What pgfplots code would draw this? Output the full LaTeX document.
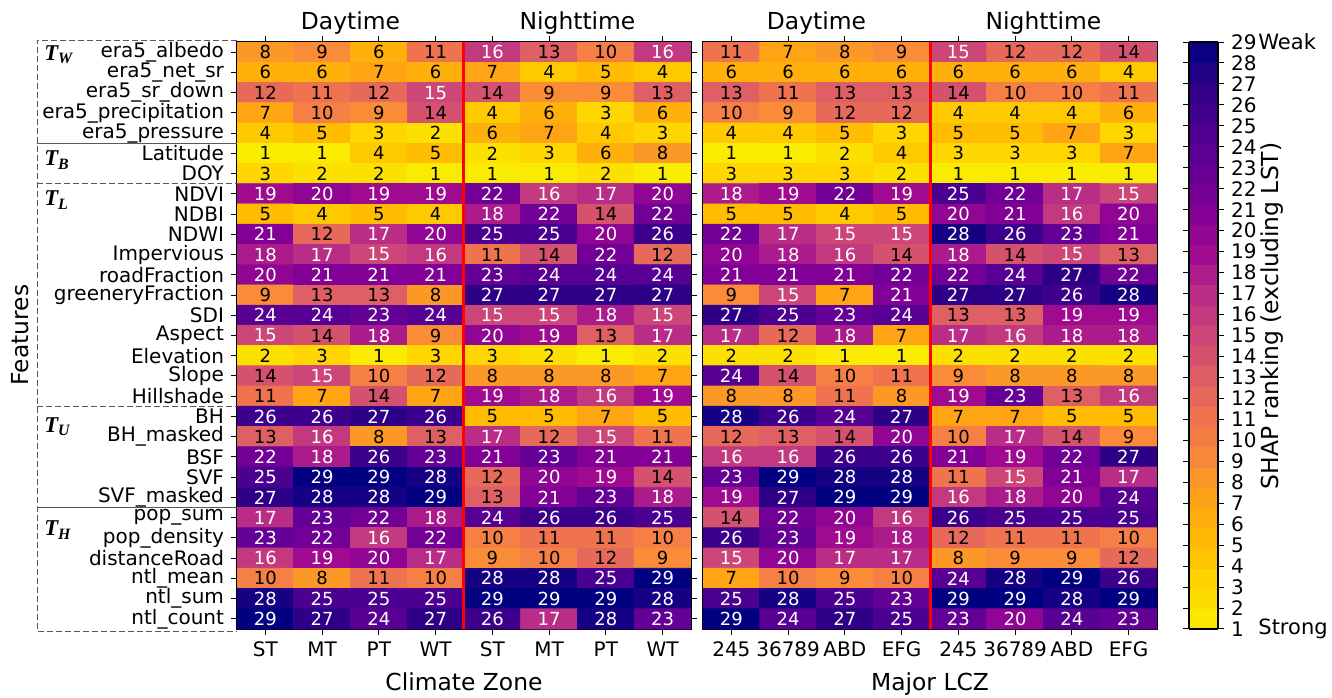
\documentclass[border=0pt]{standalone}
\usepackage{pgfplots}
\pgfplotsset{compat=1.18}
\usepackage{fontspec}
\setmainfont{DejaVu Sans}
\newfontfamily\tserif{Liberation Serif}

\pgfplotsset{
  /pgf/number format/assume math mode=true,
  hm/.style={
    scale only axis, width=227pt, height=293.5pt,
    xmin=-0.5, xmax=7.5, ymin=-0.5, ymax=28.5, y dir=reverse,
    enlargelimits=false, xtick={0,...,7},
    tick align=outside, major tick length=3pt,
    axis line style={line width=0.6pt},
    every tick/.style={black, line width=0.5pt},
    tick label style={font=\fontsize{10}{12}\selectfont},
    point meta min=1, point meta max=29,
    % ranks 1,3,5,...,29
    colormap={rankmap}{rgb255=(250,236,0) rgb255=(255,214,0) rgb255=(255,188,0)
      rgb255=(255,165,20) rgb255=(250,140,55) rgb255=(240,115,80) rgb255=(222,95,100)
      rgb255=(205,70,120) rgb255=(185,45,135) rgb255=(160,10,145) rgb255=(130,0,150)
      rgb255=(100,0,150) rgb255=(75,0,145) rgb255=(45,0,135) rgb255=(0,0,128)},
  },
  heatcells/.style={matrix plot*, mesh/cols=8, mesh/rows=29, point meta=explicit,
    nodes near coords={\ifdim\pgfplotspointmetatransformed pt>480pt\relax\color{white}\fi
      \pgfmathprintnumber{\pgfplotspointmeta}},
    every node near coord/.append style={anchor=center, inner sep=0pt,
      font=\fontsize{9}{10}\selectfont}},
  redsep/.style={red, line width=1.5pt, forget plot, mark=none},
}

\begin{document}
\begin{tikzpicture}
\path[use as bounding box] (0pt,0pt) rectangle (666pt,-348.5pt);

% climate zones
\begin{axis}[hm, name=left, at={(118.5pt,-21pt)}, anchor=north west,
  xticklabels={ST,MT,PT,WT,ST,MT,PT,WT},
  ytick={0,...,28},
  yticklabels={era5\_albedo,era5\_net\_sr,era5\_sr\_down,era5\_precipitation,era5\_pressure,
    Latitude,DOY,NDVI,NDBI,NDWI,Impervious,roadFraction,greeneryFraction,SDI,Aspect,
    Elevation,Slope,Hillshade,BH,BH\_masked,BSF,SVF,SVF\_masked,pop\_sum,pop\_density,
    distanceRoad,ntl\_mean,ntl\_sum,ntl\_count}]
\addplot[heatcells] coordinates {
(0,0)[8] (1,0)[9] (2,0)[6] (3,0)[11] (4,0)[16] (5,0)[13] (6,0)[10] (7,0)[16]
(0,1)[6] (1,1)[6] (2,1)[7] (3,1)[6] (4,1)[7] (5,1)[4] (6,1)[5] (7,1)[4]
(0,2)[12] (1,2)[11] (2,2)[12] (3,2)[15] (4,2)[14] (5,2)[9] (6,2)[9] (7,2)[13]
(0,3)[7] (1,3)[10] (2,3)[9] (3,3)[14] (4,3)[4] (5,3)[6] (6,3)[3] (7,3)[6]
(0,4)[4] (1,4)[5] (2,4)[3] (3,4)[2] (4,4)[6] (5,4)[7] (6,4)[4] (7,4)[3]
(0,5)[1] (1,5)[1] (2,5)[4] (3,5)[5] (4,5)[2] (5,5)[3] (6,5)[6] (7,5)[8]
(0,6)[3] (1,6)[2] (2,6)[2] (3,6)[1] (4,6)[1] (5,6)[1] (6,6)[2] (7,6)[1]
(0,7)[19] (1,7)[20] (2,7)[19] (3,7)[19] (4,7)[22] (5,7)[16] (6,7)[17] (7,7)[20]
(0,8)[5] (1,8)[4] (2,8)[5] (3,8)[4] (4,8)[18] (5,8)[22] (6,8)[14] (7,8)[22]
(0,9)[21] (1,9)[12] (2,9)[17] (3,9)[20] (4,9)[25] (5,9)[25] (6,9)[20] (7,9)[26]
(0,10)[18] (1,10)[17] (2,10)[15] (3,10)[16] (4,10)[11] (5,10)[14] (6,10)[22] (7,10)[12]
(0,11)[20] (1,11)[21] (2,11)[21] (3,11)[21] (4,11)[23] (5,11)[24] (6,11)[24] (7,11)[24]
(0,12)[9] (1,12)[13] (2,12)[13] (3,12)[8] (4,12)[27] (5,12)[27] (6,12)[27] (7,12)[27]
(0,13)[24] (1,13)[24] (2,13)[23] (3,13)[24] (4,13)[15] (5,13)[15] (6,13)[18] (7,13)[15]
(0,14)[15] (1,14)[14] (2,14)[18] (3,14)[9] (4,14)[20] (5,14)[19] (6,14)[13] (7,14)[17]
(0,15)[2] (1,15)[3] (2,15)[1] (3,15)[3] (4,15)[3] (5,15)[2] (6,15)[1] (7,15)[2]
(0,16)[14] (1,16)[15] (2,16)[10] (3,16)[12] (4,16)[8] (5,16)[8] (6,16)[8] (7,16)[7]
(0,17)[11] (1,17)[7] (2,17)[14] (3,17)[7] (4,17)[19] (5,17)[18] (6,17)[16] (7,17)[19]
(0,18)[26] (1,18)[26] (2,18)[27] (3,18)[26] (4,18)[5] (5,18)[5] (6,18)[7] (7,18)[5]
(0,19)[13] (1,19)[16] (2,19)[8] (3,19)[13] (4,19)[17] (5,19)[12] (6,19)[15] (7,19)[11]
(0,20)[22] (1,20)[18] (2,20)[26] (3,20)[23] (4,20)[21] (5,20)[23] (6,20)[21] (7,20)[21]
(0,21)[25] (1,21)[29] (2,21)[29] (3,21)[28] (4,21)[12] (5,21)[20] (6,21)[19] (7,21)[14]
(0,22)[27] (1,22)[28] (2,22)[28] (3,22)[29] (4,22)[13] (5,22)[21] (6,22)[23] (7,22)[18]
(0,23)[17] (1,23)[23] (2,23)[22] (3,23)[18] (4,23)[24] (5,23)[26] (6,23)[26] (7,23)[25]
(0,24)[23] (1,24)[22] (2,24)[16] (3,24)[22] (4,24)[10] (5,24)[11] (6,24)[11] (7,24)[10]
(0,25)[16] (1,25)[19] (2,25)[20] (3,25)[17] (4,25)[9] (5,25)[10] (6,25)[12] (7,25)[9]
(0,26)[10] (1,26)[8] (2,26)[11] (3,26)[10] (4,26)[28] (5,26)[28] (6,26)[25] (7,26)[29]
(0,27)[28] (1,27)[25] (2,27)[25] (3,27)[25] (4,27)[29] (5,27)[29] (6,27)[29] (7,27)[28]
(0,28)[29] (1,28)[27] (2,28)[24] (3,28)[27] (4,28)[26] (5,28)[17] (6,28)[28] (7,28)[23]
};
\addplot[redsep] coordinates {(3.5,-0.5) (3.5,28.5)};
\end{axis}

% major LCZ
\begin{axis}[hm, name=right, at={(351.5pt,-21pt)}, anchor=north west,
  xticklabels={245,36789,ABD,EFG,245,36789,ABD,EFG},
  ytick=\empty,
  colorbar sampled,
  colorbar style={samples=30, at={(parent axis.north east)}, anchor=north west,
    xshift=7.5pt, scale only axis, width=14.5pt, height=293.5pt,
    ytick={1,...,29}, tick align=outside, major tick length=3pt,
    every tick/.style={black, line width=0.5pt},
    axis line style={line width=0.6pt},
    yticklabel style={font=\fontsize{10}{12}\selectfont}}]
\addplot[heatcells] coordinates {
(0,0)[11] (1,0)[7] (2,0)[8] (3,0)[9] (4,0)[15] (5,0)[12] (6,0)[12] (7,0)[14]
(0,1)[6] (1,1)[6] (2,1)[6] (3,1)[6] (4,1)[6] (5,1)[6] (6,1)[6] (7,1)[4]
(0,2)[13] (1,2)[11] (2,2)[13] (3,2)[13] (4,2)[14] (5,2)[10] (6,2)[10] (7,2)[11]
(0,3)[10] (1,3)[9] (2,3)[12] (3,3)[12] (4,3)[4] (5,3)[4] (6,3)[4] (7,3)[6]
(0,4)[4] (1,4)[4] (2,4)[5] (3,4)[3] (4,4)[5] (5,4)[5] (6,4)[7] (7,4)[3]
(0,5)[1] (1,5)[1] (2,5)[2] (3,5)[4] (4,5)[3] (5,5)[3] (6,5)[3] (7,5)[7]
(0,6)[3] (1,6)[3] (2,6)[3] (3,6)[2] (4,6)[1] (5,6)[1] (6,6)[1] (7,6)[1]
(0,7)[18] (1,7)[19] (2,7)[22] (3,7)[19] (4,7)[25] (5,7)[22] (6,7)[17] (7,7)[15]
(0,8)[5] (1,8)[5] (2,8)[4] (3,8)[5] (4,8)[20] (5,8)[21] (6,8)[16] (7,8)[20]
(0,9)[22] (1,9)[17] (2,9)[15] (3,9)[15] (4,9)[28] (5,9)[26] (6,9)[23] (7,9)[21]
(0,10)[20] (1,10)[18] (2,10)[16] (3,10)[14] (4,10)[18] (5,10)[14] (6,10)[15] (7,10)[13]
(0,11)[21] (1,11)[21] (2,11)[21] (3,11)[22] (4,11)[22] (5,11)[24] (6,11)[27] (7,11)[22]
(0,12)[9] (1,12)[15] (2,12)[7] (3,12)[21] (4,12)[27] (5,12)[27] (6,12)[26] (7,12)[28]
(0,13)[27] (1,13)[25] (2,13)[23] (3,13)[24] (4,13)[13] (5,13)[13] (6,13)[19] (7,13)[19]
(0,14)[17] (1,14)[12] (2,14)[18] (3,14)[7] (4,14)[17] (5,14)[16] (6,14)[18] (7,14)[18]
(0,15)[2] (1,15)[2] (2,15)[1] (3,15)[1] (4,15)[2] (5,15)[2] (6,15)[2] (7,15)[2]
(0,16)[24] (1,16)[14] (2,16)[10] (3,16)[11] (4,16)[9] (5,16)[8] (6,16)[8] (7,16)[8]
(0,17)[8] (1,17)[8] (2,17)[11] (3,17)[8] (4,17)[19] (5,17)[23] (6,17)[13] (7,17)[16]
(0,18)[28] (1,18)[26] (2,18)[24] (3,18)[27] (4,18)[7] (5,18)[7] (6,18)[5] (7,18)[5]
(0,19)[12] (1,19)[13] (2,19)[14] (3,19)[20] (4,19)[10] (5,19)[17] (6,19)[14] (7,19)[9]
(0,20)[16] (1,20)[16] (2,20)[26] (3,20)[26] (4,20)[21] (5,20)[19] (6,20)[22] (7,20)[27]
(0,21)[23] (1,21)[29] (2,21)[28] (3,21)[28] (4,21)[11] (5,21)[15] (6,21)[21] (7,21)[17]
(0,22)[19] (1,22)[27] (2,22)[29] (3,22)[29] (4,22)[16] (5,22)[18] (6,22)[20] (7,22)[24]
(0,23)[14] (1,23)[22] (2,23)[20] (3,23)[16] (4,23)[26] (5,23)[25] (6,23)[25] (7,23)[25]
(0,24)[26] (1,24)[23] (2,24)[19] (3,24)[18] (4,24)[12] (5,24)[11] (6,24)[11] (7,24)[10]
(0,25)[15] (1,25)[20] (2,25)[17] (3,25)[17] (4,25)[8] (5,25)[9] (6,25)[9] (7,25)[12]
(0,26)[7] (1,26)[10] (2,26)[9] (3,26)[10] (4,26)[24] (5,26)[28] (6,26)[29] (7,26)[26]
(0,27)[25] (1,27)[28] (2,27)[25] (3,27)[23] (4,27)[29] (5,27)[29] (6,27)[28] (7,27)[29]
(0,28)[29] (1,28)[24] (2,28)[27] (3,28)[25] (4,28)[23] (5,28)[20] (6,28)[24] (7,28)[23]
};
\addplot[redsep] coordinates {(3.5,-0.5) (3.5,28.5)};
\end{axis}

% text and group boxes, in pixels of the reference
\begin{scope}[x=0.5pt, y=-0.5pt]
\tikzset{big/.style={font=\fontsize{11.7}{14}\selectfont, inner sep=0pt}}
\node[big, anchor=base] at (350.5,29) {Daytime};
\node[big, anchor=base] at (577.5,29) {Nighttime};
\node[big, anchor=base] at (816.5,29) {Daytime};
\node[big, anchor=base] at (1043.5,29) {Nighttime};
\node[big, anchor=base] at (464,690) {Climate Zone};
\node[big, anchor=base] at (930,690) {Major LCZ};
\node[big, rotate=90] at (20,335) {Features};
\node[big, rotate=90] at (1272,316) {SHAP ranking (excluding LST)};
\node[font=\fontsize{10.5}{12}\selectfont, anchor=west, inner sep=0pt] at (1258,42) {Weak};
\node[font=\fontsize{10.5}{12}\selectfont, anchor=west, inner sep=0pt] at (1258,629) {Strong};

\tikzset{bx/.style={gray!70!black, line width=0.5pt, dash pattern=on 3pt off 1.5pt}}
\draw[bx] (237,40) -- (37,40) -- (37,631) -- (237,631);
\draw[gray!70!black, line width=0.5pt] (37,143.2) -- (237,143.2);
\draw[bx] (37,183.7) -- (237,183.7);
\draw[bx] (37,406.3) -- (237,406.3);
\draw[gray!70!black, line width=0.5pt] (37,507.5) -- (237,507.5);

\tikzset{grp/.style={font=\tserif\bfseries\itshape\fontsize{11.3}{12}\selectfont, anchor=west, inner sep=0pt}}
\node[grp] at (44,55) {T\textsubscript{W}};
\node[grp] at (44,160) {T\textsubscript{B}};
\node[grp] at (44,200) {T\textsubscript{L}};
\node[grp] at (44,427) {T\textsubscript{U}};
\node[grp] at (44,530) {T\textsubscript{H}};
\end{scope}
\end{tikzpicture}
\end{document}
